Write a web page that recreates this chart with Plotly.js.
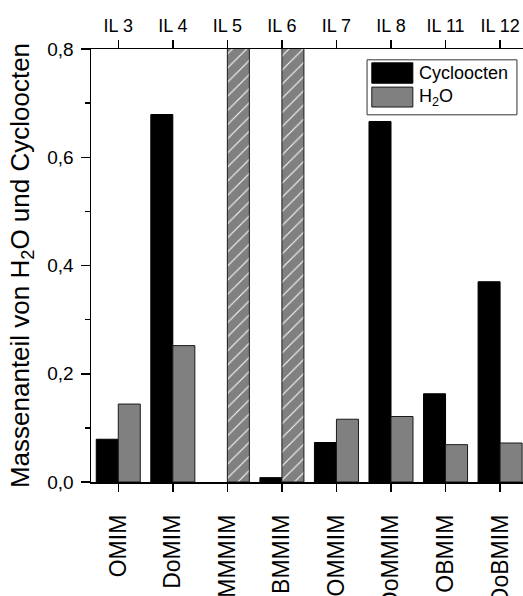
<!DOCTYPE html>
<html>
<head>
<meta charset="utf-8">
<script src="https://cdn.plot.ly/plotly-3.0.1.min.js"></script>
<style>html,body{margin:0;padding:0;background:#fff;}#chart{width:523px;height:596px;}</style>
</head>
<body>
<div id="chart"></div>
<script>
// Data
var compounds = ['OMIM', 'DoMIM', 'MMMIM', 'BMMIM', 'OMMIM', 'DoMMIM', 'OBMIM', 'DoBMIM'];
var ilLabels = ['IL 3', 'IL 4', 'IL 5', 'IL 6', 'IL 7', 'IL 8', 'IL 11', 'IL 12'];
var cycloocten = [0.079, 0.679, null, 0.008, 0.073, 0.666, 0.163, 0.370];
var water = [0.144, 0.252, 0.9, 0.9, 0.116, 0.121, 0.069, 0.072];
var waterPattern = ['', '', '/', '/', '', '', '', ''];

var FONT = 'Liberation Sans, Arial, sans-serif';

var traces = [
  {
    type: 'bar', name: 'Cycloocten', x: compounds, y: cycloocten,
    marker: {color: '#000000', line: {color: '#000000', width: 1}},
    showlegend: false, hoverinfo: 'skip'
  },
  {
    type: 'bar', name: 'H<sub>2</sub>O', x: compounds, y: water,
    marker: {
      color: '#808080', line: {color: '#1a1a1a', width: 1},
      pattern: {shape: waterPattern, fgcolor: '#ffffff', bgcolor: '#808080', size: 10, solidity: 0.1, fillmode: 'replace'}
    },
    showlegend: false, hoverinfo: 'skip'
  },
  {
    type: 'bar', x: ilLabels, y: cycloocten, xaxis: 'x2', yaxis: 'y',
    opacity: 0, showlegend: false, hoverinfo: 'skip'
  }
];

var layout = {
  width: 523, height: 596,
  margin: {l: 91, r: 0, t: 49, b: 114, pad: 0},
  paper_bgcolor: '#ffffff', plot_bgcolor: '#ffffff',
  separators: ', ',
  barmode: 'group', bargap: 0.193, bargroupgap: 0,
  font: {family: FONT, color: '#000000', size: 16},
  xaxis: {
    type: 'category', range: [-0.5, 7.42], showgrid: false, zeroline: false,
    showline: true, linecolor: '#000', linewidth: 1.5,
    ticks: 'outside', ticklen: 8, tickwidth: 1.5, tickcolor: '#000',
    tickangle: -90, tickfont: {family: FONT, size: 23}, ticklabelstandoff: 14,
    fixedrange: true
  },
  xaxis2: {
    type: 'category', overlaying: 'x', side: 'top', anchor: 'y',
    categoryorder: 'array', categoryarray: ilLabels,
    range: [-0.5, 7.42], showgrid: false, zeroline: false,
    showline: true, linecolor: '#000', linewidth: 1.5,
    ticks: 'outside', ticklen: 8, tickwidth: 1.5, tickcolor: '#000',
    tickangle: 0, tickfont: {family: FONT, size: 18}, ticklabelstandoff: 0,
    fixedrange: true
  },
  yaxis: {
    range: [0, 0.8], dtick: 0.2, tick0: 0, tickformat: '.1f',
    showgrid: false, zeroline: false,
    showline: true, linecolor: '#000', linewidth: 1.5,
    ticks: 'outside', ticklen: 9, tickwidth: 1.5, tickcolor: '#000',
    tickfont: {family: FONT, size: 19}, ticklabelstandoff: 3,
    minor: {ticks: 'outside', dtick: 0.1, tick0: 0, ticklen: 5, tickwidth: 1.5, tickcolor: '#000', showgrid: false},
    title: {text: 'Massenanteil von H<sub>2</sub>O und Cycloocten', font: {family: FONT, size: 26}, standoff: 10},
    fixedrange: true
  },
  shapes: [
    {type: 'rect', xref: 'paper', yref: 'paper', x0: 0.639, x1: 0.986, y0: 0.848, y1: 0.975,
     line: {color: '#333', width: 1}, fillcolor: '#ffffff', layer: 'above'},
    {type: 'rect', xref: 'paper', yref: 'paper', x0: 0.650, x1: 0.745, y0: 0.921, y1: 0.968,
     line: {color: '#000', width: 1}, fillcolor: '#000000', layer: 'above'},
    {type: 'rect', xref: 'paper', yref: 'paper', x0: 0.650, x1: 0.745, y0: 0.866, y1: 0.912,
     line: {color: '#1a1a1a', width: 1}, fillcolor: '#808080', layer: 'above'}
  ],
  annotations: [
    {xref: 'paper', yref: 'paper', x: 0.755, y: 0.944, xanchor: 'left', yanchor: 'middle',
     text: 'Cycloocten', showarrow: false, font: {family: FONT, size: 18, color: '#000'}},
    {xref: 'paper', yref: 'paper', x: 0.755, y: 0.889, xanchor: 'left', yanchor: 'middle',
     text: 'H<sub>2</sub>O', showarrow: false, font: {family: FONT, size: 18, color: '#000'}}
  ]
};

Plotly.newPlot('chart', traces, layout, {staticPlot: true, displayModeBar: false});
</script>
</body>
</html>
